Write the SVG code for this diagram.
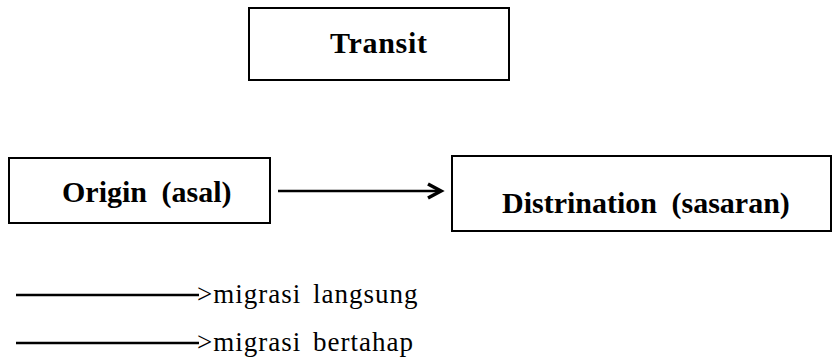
<svg xmlns="http://www.w3.org/2000/svg" width="837" height="361" viewBox="0 0 837 361">
<style>
.box{fill:#fff;stroke:#000;stroke-width:2}
.lbl{font-family:"Liberation Serif","Times New Roman",serif;font-weight:bold;font-size:30px;fill:#000;word-spacing:7px}
.leg{font-family:"Liberation Serif","Times New Roman",serif;font-size:27px;fill:#000;letter-spacing:1px;word-spacing:4px}
.ln{stroke:#000;stroke-width:2.5;fill:none}
.head{stroke:#000;stroke-width:3.5;fill:none;stroke-linejoin:miter}
</style>
<rect width="837" height="361" fill="#fff"/>
<g id="transit">
<rect class="box" x="249" y="8" width="260" height="72"/>
<text class="lbl" x="330" y="53" letter-spacing="0.7">Transit</text>
</g>
<g id="origin">
<rect class="box" x="9" y="158" width="261" height="65"/>
<text class="lbl" x="62" y="202">Origin (asal)</text>
</g>
<g id="destination">
<rect class="box" x="452" y="156" width="379" height="75"/>
<text class="lbl" x="502" y="213">Distrination (sasaran)</text>
</g>
<g id="connectors">
<line class="ln" x1="278" y1="191" x2="438" y2="191"/>
<polyline class="head" points="428,184 441,191 428,198"/>
</g>
<g id="legend">
<line class="ln" x1="16" y1="295" x2="199" y2="295"/>
<text class="leg" x="197" y="303">&gt;migrasi langsung</text>
<line class="ln" x1="16" y1="343" x2="199" y2="343"/>
<text class="leg" x="197" y="351">&gt;migrasi bertahap</text>
</g>
</svg>
